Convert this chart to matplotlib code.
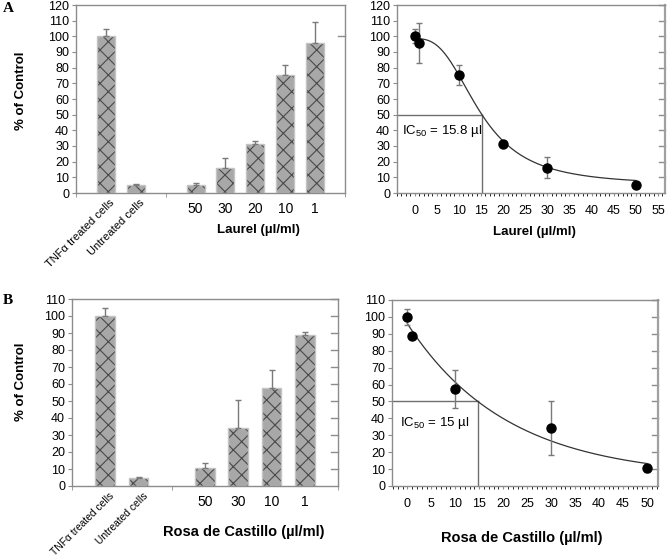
import numpy as np
import matplotlib
matplotlib.use("Agg")
import matplotlib.pyplot as plt
from matplotlib.ticker import MultipleLocator, FixedLocator

plt.rcParams['font.family'] = ['Liberation Sans', 'DejaVu Sans']
plt.rcParams['mathtext.fontset'] = 'custom'
plt.rcParams['mathtext.rm'] = 'Liberation Sans'
plt.rcParams['mathtext.it'] = 'Liberation Sans'
plt.rcParams['hatch.linewidth'] = 0.8

# ---------------- data ----------------
control_labels = ["TNF\u03b1 treated cells", "Untreated cells"]

laurel_conc_labels = ["50", "30", "20", "10", "1"]
laurel_bar_vals = [100, 5, 5, 16, 31.5, 75.5, 96]
laurel_bar_err = [4.5, 0.5, 1.5, 6.5, 2.0, 6.5, 13.0]

rosa_conc_labels = ["50", "30", "10", "1"]
rosa_bar_vals = [100, 5, 10.5, 34, 57.5, 89]
rosa_bar_err = [4.5, 0.5, 3.0, 16.5, 11.0, 1.5]

laurel_dose = [0, 1, 10, 20, 30, 50]
laurel_resp = [100, 96, 75.5, 31.5, 16, 5]
laurel_resp_err = [4.5, 12.8, 6.5, 1.5, 6.7, 1.0]

rosa_dose = [0, 1, 10, 30, 50]
rosa_resp = [100, 89, 57.5, 34.5, 10.5]
rosa_resp_err = [4.5, 1.5, 11.2, 16.0, 2.5]

# fitted curve parameters
laurel_fit = dict(top=98.5, bottom=5.0, x0=14.8, hill=2.8)
laurel_ic50_drawn = 15.2
laurel_ic50_text = "IC$_{50}$ = 15.8 \u00b5l"

rosa_fit = dict(top=96.0, plateau=5.0, k=0.0479)
rosa_ic50_drawn = 14.7
rosa_ic50_text = "IC$_{50}$ = 15 \u00b5l"

# ---------------- style ----------------
SPINE = '#8c8c8c'
BAR_FILL = '#a8a8a8'
HATCH = '#4a4a4a'
BAR_EDGE = '#c4c4c4'
ERR = '#7a7a7a'

W, H = 668, 558
fig = plt.figure(figsize=(W / 100, H / 100), dpi=100)


def px_axes(x0, y0, x1, y1):
    return fig.add_axes([x0 / W, 1 - y1 / H, (x1 - x0) / W, (y1 - y0) / H])


def style_spines(ax):
    for s in ax.spines.values():
        s.set_color(SPINE)
        s.set_linewidth(1.0)
    ax.tick_params(colors=SPINE, labelcolor='black')


def bar_panel(ax, positions, vals, errs, conc_labels, ymax, xlabel, xlabel_pos,
              ylabel_pos, xlabel_size, right_ticks, rot_size):
    style_spines(ax)
    ax.bar(positions, vals, width=0.6, color=BAR_FILL, edgecolor=HATCH,
           hatch='xx', linewidth=0, zorder=2)
    ax.bar(positions, vals, width=0.6, fill=False, edgecolor=BAR_EDGE,
           linewidth=1.0, zorder=3)
    ax.errorbar(positions, vals, yerr=[np.zeros(len(errs)), errs], fmt='none',
                ecolor=ERR, elinewidth=1.0, capsize=2.5, capthick=1.0, zorder=4)
    ax.set_xlim(-1, positions[-1] + 1)
    ax.set_ylim(0, ymax)
    ax.yaxis.set_major_locator(MultipleLocator(10))
    ax.tick_params(axis='y', which='major', direction='out', length=3,
                   labelsize=9, pad=2, right=False)
    # category labels
    ax.xaxis.set_major_locator(FixedLocator(positions))
    ax.set_xticklabels([""] * len(positions))
    ax.tick_params(axis='x', which='major', length=0)
    ax.xaxis.set_minor_locator(FixedLocator([-1, 2, positions[-1] + 1]))
    ax.tick_params(axis='x', which='minor', length=3, direction='out', color=SPINE)
    trans = ax.get_xaxis_transform()
    for p, lab in zip(positions[:2], control_labels):
        ax.text(p + 0.12, -0.025, lab, rotation=45, rotation_mode='anchor',
                ha='right', va='top', fontsize=rot_size, transform=trans)
    for p, lab in zip(positions[2:], conc_labels):
        ax.text(p, -0.085, lab, ha='center', va='center', fontsize=10,
                transform=trans)
    ax.set_ylabel("% of Control", fontsize=9.5, fontweight='bold')
    ax.yaxis.set_label_coords(*ylabel_pos)
    ax.text(xlabel_pos[0], xlabel_pos[1], xlabel, transform=ax.transAxes,
            ha='center', va='center', fontsize=xlabel_size, fontweight='bold')
    # right spine ticks
    for t in right_ticks:
        ax.plot([1 - 0.025, 1.0], [t / ymax, t / ymax], transform=ax.transAxes,
                color=SPINE, lw=1.0, clip_on=False)


def dose_panel(ax, dose, resp, err, xs, ys, xlim, ymax, xmax_label, ic50_x,
               ic50_text, text_xy, xlabel, xlabel_pos, xlabel_size):
    style_spines(ax)
    ax.spines['right'].set_linewidth(1.6)
    ax.spines['right'].set_color('#a0a0a0')
    ax.plot(xs, ys, color='#333333', lw=0.9, zorder=2)
    ax.errorbar(dose, resp, yerr=err, fmt='none', ecolor=ERR, elinewidth=1.0,
                capsize=2.5, capthick=1.0, zorder=3)
    ax.plot(dose, resp, 'o', color='black', markersize=6.5, zorder=4)
    ax.plot([xlim[0], ic50_x], [50, 50], color='#6e6e6e', lw=1.0, zorder=1)
    ax.plot([ic50_x, ic50_x], [0, 50], color='#6e6e6e', lw=1.0, zorder=1)
    ax.text(text_xy[0], text_xy[1], ic50_text, fontsize=9.5, ha='left',
            va='center')
    ax.set_xlim(*xlim)
    ax.set_ylim(0, ymax)
    ax.xaxis.set_major_locator(FixedLocator(np.arange(0, xmax_label + 1, 5)))
    ax.xaxis.set_minor_locator(MultipleLocator(1))
    ax.yaxis.set_major_locator(MultipleLocator(10))
    ax.tick_params(axis='x', which='both', direction='out', length=2.5,
                   labelsize=9, pad=6)
    ax.tick_params(axis='y', which='major', direction='out', length=3,
                   labelsize=9, pad=2)
    ax.text(xlabel_pos[0], xlabel_pos[1], xlabel, transform=ax.transAxes,
            ha='center', va='center', fontsize=xlabel_size, fontweight='bold')
    for t in range(10, ymax + 1, 10):
        ax.plot([1 - 0.022, 1.0], [t / ymax, t / ymax], transform=ax.transAxes,
                color=SPINE, lw=1.0, clip_on=False)


# ---------------- panel A ----------------
axA1 = px_axes(76, 5, 345, 193)
bar_panel(axA1, [0, 1, 3, 4, 5, 6, 7], laurel_bar_vals, laurel_bar_err,
          laurel_conc_labels, 120, "Laurel (\u00b5l/ml)", (0.677, -0.197),
          (-0.182, 0.543), 9.5, [100], 8.0)

axA2 = px_axes(397, 5, 665, 193)
xsA = np.linspace(0, 50, 300)
ysA = laurel_fit['bottom'] + (laurel_fit['top'] - laurel_fit['bottom']) / (
    1 + (xsA / laurel_fit['x0']) ** laurel_fit['hill'])
dose_panel(axA2, laurel_dose, laurel_resp, laurel_resp_err, xsA, ysA,
           (-4, 56.6), 120, 55, laurel_ic50_drawn, laurel_ic50_text,
           (-2.9, 39.5), "Laurel (\u00b5l/ml)", (0.511, -0.207), 9.5)

# ---------------- panel B ----------------
axB1 = px_axes(72, 299, 338, 486)
bar_panel(axB1, [0, 1, 3, 4, 5, 6], rosa_bar_vals, rosa_bar_err,
          rosa_conc_labels, 110, "Rosa de Castillo (\u00b5l/ml)",
          (0.647, -0.245), (-0.169, 0.556), 10.5, list(range(10, 111, 10)),
          7.4)

axB2 = px_axes(392, 300, 658, 486)
xsB = np.linspace(0, 50, 300)
ysB = rosa_fit['plateau'] + (rosa_fit['top'] - rosa_fit['plateau']) * np.exp(
    -rosa_fit['k'] * xsB)
dose_panel(axB2, rosa_dose, rosa_resp, rosa_resp_err, xsB, ysB,
           (-3.2, 52.3), 110, 50, rosa_ic50_drawn, rosa_ic50_text,
           (-1.6, 37.5), "Rosa de Castillo (\u00b5l/ml)", (0.489, -0.28), 10.5)

# panel letters
fig.text(3 / W, 1 - 9 / H, "A", fontsize=11, fontweight='bold',
         family=['Liberation Serif', 'DejaVu Serif'], ha='left', va='center')
fig.text(3 / W, 1 - 300 / H, "B", fontsize=11, fontweight='bold',
         family=['Liberation Serif', 'DejaVu Serif'], ha='left', va='center')

fig.savefig("out.png", dpi=100)
